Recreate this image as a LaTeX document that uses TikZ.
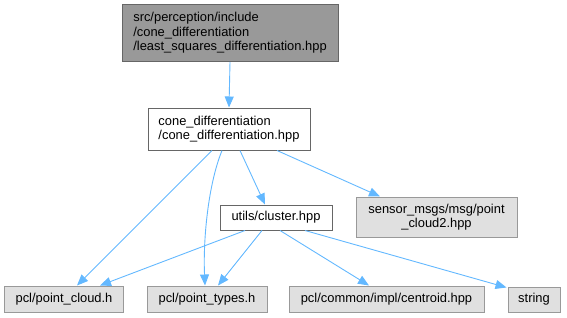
\documentclass[tikz,border=0pt]{standalone}
\usepackage{fontspec}
\setmainfont{Liberation Sans}
\usetikzlibrary{arrows.meta}

\definecolor{edgeblue}{HTML}{63B8FF}
\definecolor{mainfill}{HTML}{999999}
\definecolor{mainborder}{HTML}{666666}
\definecolor{extfill}{HTML}{E0E0E0}
\definecolor{extborder}{HTML}{999999}

\tikzset{
  file/.style={draw=mainborder, fill=white, line width=1pt, inner sep=2pt,
    font=\fontsize{12.9}{14.6}\selectfont, text=black, align=left},
  current/.style={file, fill=mainfill},
  external/.style={file, draw=extborder, fill=extfill, align=center},
  dep/.style={draw=edgeblue, line width=0.9pt,
    -{Triangle[length=11pt,width=9pt]}},
}

\begin{document}
\begin{tikzpicture}[x=1pt, y=-1pt]
  \useasboundingbox (0,0) rectangle (567,317);

  % files of the package
  \node[current, minimum width=216pt, minimum height=57pt] (top) at (230,33)
    {src/perception/include\\/cone\_differentiation\\/least\_squares\_differentiation.hpp};
  \node[file, minimum width=162pt, minimum height=42pt] (cone) at (229,129)
    {cone\_differentiation\\/cone\_differentiation.hpp};
  \node[file, minimum width=112pt, minimum height=25pt] (cluster) at (276,217.5)
    {utils/cluster.hpp};

  % external headers
  \node[external, minimum width=161pt, minimum height=40pt] (sensor) at (436.5,217)
    {sensor\_msgs/msg/point\\\_cloud2.hpp};
  \node[external, minimum width=119pt, minimum height=26pt] (pc) at (64,299)
    {pcl/point\_cloud.h};
  \node[external, minimum width=120pt, minimum height=26pt] (pt) at (207,299)
    {pcl/point\_types.h};
  \node[external, minimum width=195pt, minimum height=26pt] (centroid) at (386.5,299)
    {pcl/common/impl/centroid.hpp};
  \node[external, minimum width=52pt, minimum height=25pt] (string) at (534,299.5)
    {string};

  % include relations
  \draw[dep] (top.south) -- (cone.north);
  \draw[dep] ([xshift=-17pt]cone.south) -- ([xshift=13pt]pc.north);
  \draw[dep] ([xshift=-7pt]cone.south) .. controls (208,185) and (203,240) .. ([xshift=-2pt]pt.north);
  \draw[dep] ([xshift=11pt]cone.south) -- ([xshift=-11pt]cluster.north);
  \draw[dep] ([xshift=48pt]cone.south) -- ([xshift=-56.5pt]sensor.north);
  \draw[dep] ([xshift=-31pt]cluster.south) -- ([xshift=36pt]pc.north);
  \draw[dep] ([xshift=-14pt]cluster.south) -- ([xshift=11pt]pt.north);
  \draw[dep] ([xshift=4pt]cluster.south) -- ([xshift=-17.5pt]centroid.north);
  \draw[dep] ([xshift=29pt]cluster.south) -- ([xshift=-1pt,yshift=-1pt]string.north west);
\end{tikzpicture}
\end{document}
